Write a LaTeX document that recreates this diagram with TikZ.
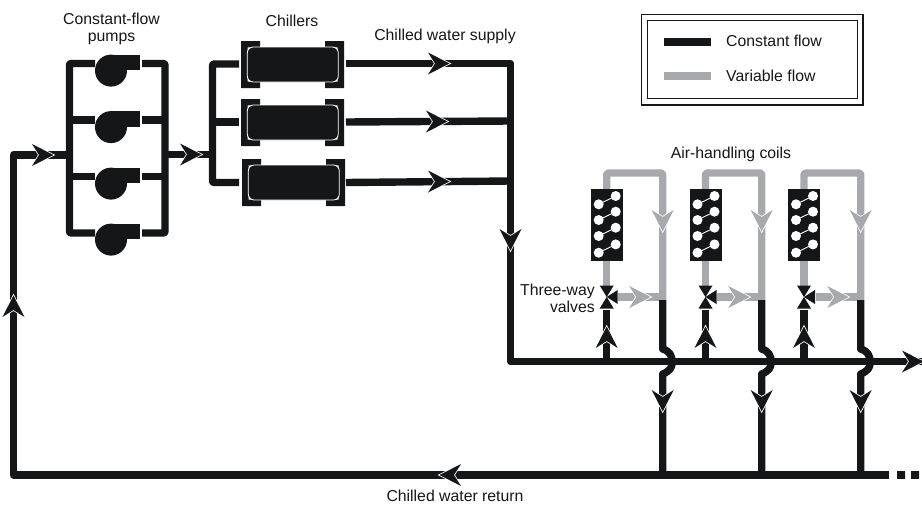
\documentclass[tikz,border=0pt]{standalone}
\usepackage{fontspec}
\setmainfont{Liberation Sans}
\definecolor{ink}{HTML}{141618}
\definecolor{pale}{HTML}{A7A9AC}
\tikzset{
  x=1pt,y=-1pt,
  pipe/.style={draw=ink,line width=7.4pt,line join=round},
  gpipe/.style={draw=pale,line width=7.4pt,line join=round},
  lbl/.style={font=\fontsize{15.8}{17}\selectfont,text=ink,inner sep=0pt},
  pics/flowarrow/.style={code={
    \fill[#1,preaction={draw=white,line width=1.6pt,line join=miter}]
      (-21,-11) -- (0.5,0) -- (-21,11) -- (-14,0) -- cycle;}},
  pics/pump/.style={code={
    \fill[ink] (0,15.6) circle[radius=16];
    \fill[ink] (0,-0.4) rectangle (29,15.4);
  }},
  pics/chiller/.style={code={
    \fill[ink] (0,0) -- (19,0) -- (19,6.3) -- (6.5,6.3) -- (6.5,40.7) -- (19,40.7) -- (19,47) -- (0,47) -- cycle;
    \fill[ink] (103,0) -- (84,0) -- (84,6.3) -- (96.5,6.3) -- (96.5,40.7) -- (84,40.7) -- (84,47) -- (103,47) -- cycle;
    \filldraw[fill=ink,draw=white,line width=0.8pt,rounded corners=6pt] (6.3,6) rectangle (97.3,41);
  }},
  pics/coil/.style={code={
    \fill[ink] (0,0) rectangle (32,71.7);
    \foreach \yy in {15.3,31,47,63.7}{
      \draw[white,line width=0.9pt] (7.7,\yy) -- (24.7,\yy-8.3);
      \fill[white] (7.7,\yy) circle[radius=5] (24.7,\yy-8.3) circle[radius=5];
    }
  }},
  pics/valve/.style={code={
    \fill[ink] (-7,-11.5) -- (7,-11.5) -- (0,0) -- cycle;
    \fill[ink] (-7,11.5) -- (7,11.5) -- (0,0) -- cycle;
    \fill[ink] (0,0) -- (11,-7) -- (11,7) -- cycle;
  }},
}
\begin{document}
\begin{tikzpicture}
\useasboundingbox (0,0) rectangle (922,504);
% named junctions
\coordinate (retBL) at (13.5,475);
\coordinate (retTL) at (13.5,155);
\coordinate (pumpIn) at (69,155);
\coordinate (pumpOut) at (165,154.5);
\coordinate (chIn) at (212.5,154.5);
\coordinate (supTop) at (510.5,63.5);
\coordinate (busL) at (510.5,361.5);
\coordinate (busR) at (922,361.5);
\coordinate (retR) at (889,475);
% return main
\draw[pipe] (retR) -- (retBL) -- (retTL) -- (pumpIn);
\fill[ink] (897,471.2) rectangle (905,478.8) (911,471.2) rectangle (919,478.8);
% pump manifold
\draw[pipe,rounded corners=1pt] (95,63.5) -- (69.5,63.5) -- (69.5,233) -- (95,233);
\draw[pipe,rounded corners=1pt] (142,63.5) -- (165,63.5) -- (165,233) -- (142,233);
\foreach \yy in {120,176.5}{
  \draw[pipe] (69.5,\yy) -- (95,\yy);
  \draw[pipe] (142,\yy) -- (165,\yy);
}
\foreach \yy in {55,111.5,168,224}{ \pic at (111,\yy) {pump}; }
\draw[pipe] (pumpOut) -- (chIn);
% chiller manifold
\draw[pipe,rounded corners=1pt] (239,64) -- (212.5,64) -- (212.5,182.5) -- (239,182.5);
\draw[pipe] (212.5,122) -- (239,122);
\pic at (241,41) {chiller};
\pic at (241,99) {chiller};
\pic at (242,159) {chiller};
% supply
\draw[pipe] (346,63.5) -- (supTop) -- (busL) -- (busR);
\draw[pipe] (346,122) -- (510.5,121);
\draw[pipe] (346,182.5) -- (510.5,181);
% coil groups
\foreach \xa/\xb in {606.7/662.7,705.5/761.7,804/860.7}{
  \draw[gpipe,rounded corners=2pt] (\xa,190) -- (\xa,173) -- (\xb,173) -- (\xb,300);
  \draw[gpipe] (\xa,260) -- (\xa,286);
  \draw[gpipe] (\xa+11.5,297) -- (\xb,297);
  \pic at (\xa-15.7,189) {coil};
  \pic at (\xa,297) {valve};
  \draw[pipe] (\xa,310) -- (\xa,361.5);
  \draw[pipe,line join=round] (\xb,300) -- (\xb,349)
     .. controls (\xb+7,351) and (\xb+9.5,356) .. (\xb+9.5,362)
     .. controls (\xb+9.5,368) and (\xb+7,371) .. (\xb,374) -- (\xb,475);
  \pic at (\xb-12.5,297) {flowarrow=pale};
  \pic[rotate=90] at (\xa,327) {flowarrow=ink};
  \pic[rotate=-90] at (\xb,411) {flowarrow=ink};
  \pic[rotate=-90] at (\xb,231) {flowarrow=pale};
}
% arrows
\pic at (53,155) {flowarrow=ink};
\pic at (201,154.5) {flowarrow=ink};
\pic at (449,63.5) {flowarrow=ink};
\pic at (447,121.5) {flowarrow=ink};
\pic at (449,181.5) {flowarrow=ink};
\pic[rotate=-90] at (510.5,250) {flowarrow=ink};
\pic[rotate=90] at (13.5,296) {flowarrow=ink};
\pic[rotate=180] at (440,475) {flowarrow=ink};
\pic at (923,361.5) {flowarrow=ink};
% labels
\node[lbl,align=center] (lpump) at (111.5,29) {Constant-flow\\pumps};
\node[lbl] (lchill) at (292,21) {Chillers};
\node[lbl] (lsup) at (445,36) {Chilled water supply};
\node[lbl] (lcoil) at (731,154) {Air-handling coils};
\node[lbl,align=right,anchor=east] (lvalve) at (595,298) {Three-way\\valves};
\node[lbl] (lret) at (455,496) {Chilled water return};
% legend
\draw[ink,line width=1.4pt] (641.7,14.3) rectangle (863,105);
\draw[ink,line width=0.8pt] (647.3,20.7) rectangle (857.7,98.3);
\draw[ink,line width=8pt] (664,41.7) -- (711,41.7);
\draw[pale,line width=8pt] (664,76) -- (711,76);
\node[lbl,anchor=west] (lc) at (726,41) {Constant flow};
\node[lbl,anchor=west] (lv) at (726,76) {Variable flow};
\end{tikzpicture}
\end{document}
